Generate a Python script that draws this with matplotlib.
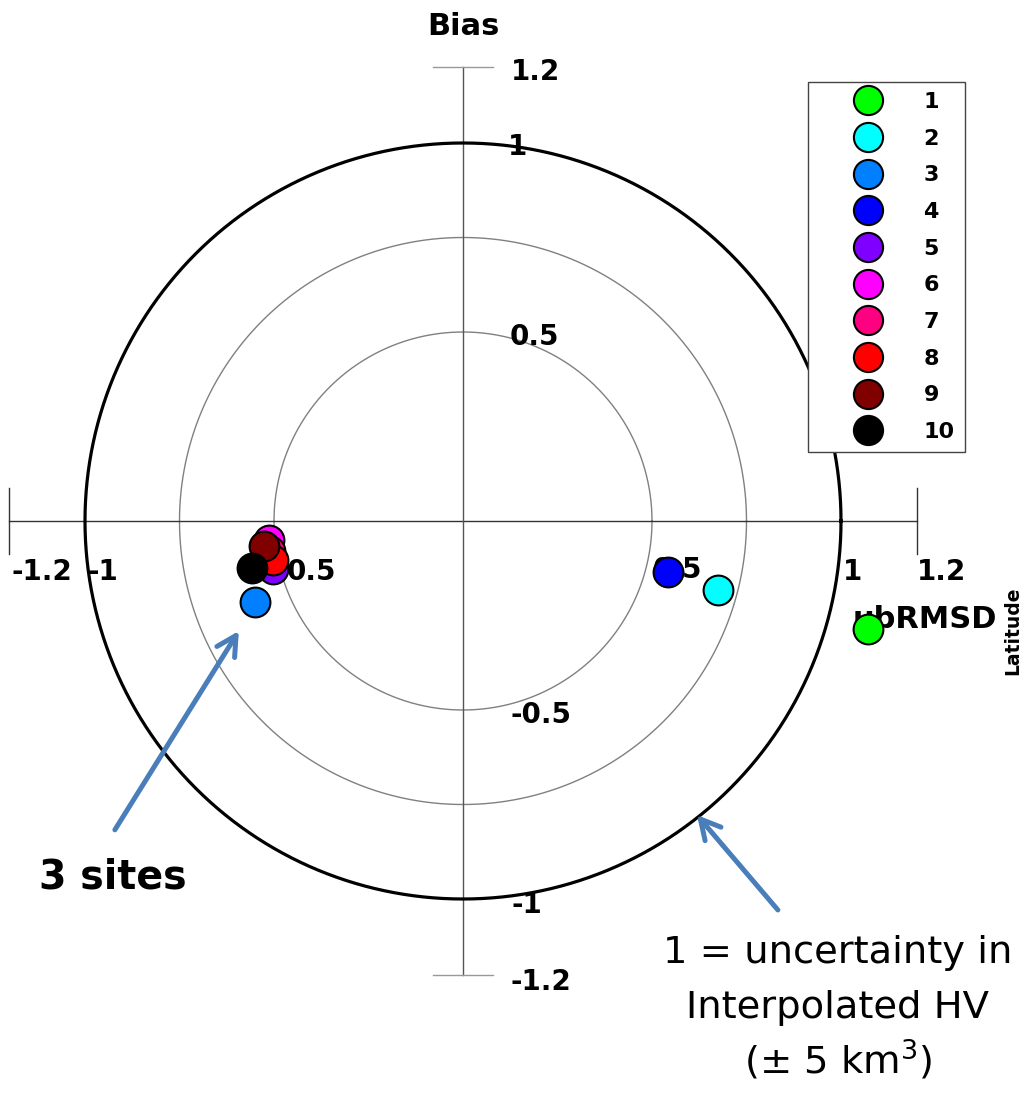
import numpy as np
import matplotlib.pyplot as plt
from matplotlib.lines import Line2D

plt.rcParams['font.family'] = ['DejaVu Sans']

# site results, normalised by the HV uncertainty
sites = ['1', '2', '3', '4', '5', '6', '7', '8', '9', '10']
ubrmsd = [1.071, 0.675, -0.55, 0.542, -0.503, -0.513, -0.51, -0.503, -0.526, -0.559]
bias = [-0.286, -0.183, -0.214, -0.135, -0.127, -0.05, -0.08, -0.103, -0.066, -0.124]
colors = ['#00ff00', '#00ffff', '#0080ff', '#0000ff', '#8000ff',
          '#ff00ff', '#ff0080', '#ff0000', '#800000', '#000000']

ring_radii = [0.5, 0.75]
note_lines = ['1 = uncertainty in', 'Interpolated HV', '(± 5 km$^3$)']

fig = plt.figure(figsize=(10.29, 10.95), dpi=100)
ax = fig.add_axes([0, 0, 1, 1])
scale = 378.0
cx, cy = 463.0, 521.0
ax.set_xlim(-cx / scale, (1029 - cx) / scale)
ax.set_ylim(-(1095 - cy) / scale, cy / scale)
ax.set_aspect('equal')
ax.axis('off')

t = np.linspace(0, 2 * np.pi, 721)
for r in ring_radii:
    ax.plot(r * np.cos(t), r * np.sin(t), color='#808080', lw=1.0, zorder=1)
ax.plot(np.cos(t), np.sin(t), color='black', lw=2.3, zorder=2)

# axes with end caps
ax.plot([-1.2, 1.2], [0, 0], color='#333333', lw=1.0, zorder=1)
ax.plot([0, 0], [-1.2, 1.2], color='#555555', lw=1.0, zorder=1)
for x in (-1.2, 1.2):
    ax.plot([x, x], [-0.088, 0.088], color='#333333', lw=1.0, zorder=1)
for y in (-1.2, 1.2):
    ax.plot([-0.08, 0.08], [y, y], color='#999999', lw=1.0, zorder=1)

tk = dict(fontsize=20, fontweight='bold', zorder=3, ha='center', va='baseline')
# horizontal tick labels
row = -0.156
ax.text(-1.114, row, '-1.2', **tk)
ax.text(-0.952, row, '-1', **tk)
ax.text(-0.40, row, '0.5', **tk)
ax.text(0.568, row + 0.005, '0.5', **tk)
ax.text(1.03, row, '1', **tk)
ax.text(1.267, row, '1.2', **tk)
# vertical tick labels
ax.text(0.193, 1.167, '1.2', **tk)
ax.text(0.143, 0.968, '1', **tk)
ax.text(0.19, 0.466, '0.5', **tk)
ax.text(0.206, -0.534, '-0.5', **tk)
ax.text(0.17, -1.037, '-1', **tk)
ax.text(0.206, -1.241, '-1.2', **tk)

ax.text(0, 1.286, 'Bias', fontsize=22, fontweight='bold', ha='center', va='baseline')
ax.text(1.222, -0.283, 'ubRMSD', fontsize=22, fontweight='bold', ha='center',
        va='baseline', zorder=3)
ax.text(1.455, -0.29, 'Latitude', ha='center', va='center', rotation=90,
        fontsize=13.5, fontweight='bold', zorder=3)

for x, y, c in zip(ubrmsd, bias, colors):
    ax.scatter(x, y, s=460, color=c, edgecolor='black', linewidth=1.5, zorder=5)

# annotation arrows
arrow_kw = dict(arrowstyle='->,head_length=1.4,head_width=0.75', color='#4a7ebb',
                lw=3.6, shrinkA=0, shrinkB=0)
ax.annotate('', xy=(-0.593, -0.291), xytext=(-0.921, -0.817),
            arrowprops=arrow_kw, zorder=6)
ax.annotate('', xy=(0.619, -0.778), xytext=(0.833, -1.029),
            arrowprops=arrow_kw, zorder=6)
ax.text(-0.926, -0.971, '3 sites', ha='center', va='baseline',
        fontsize=28.5, fontweight='bold', zorder=6)
for line, yb in zip(note_lines, [-1.169, -1.315, -1.463]):
    ax.text(0.992, yb, line, ha='center', va='baseline', fontsize=27.7, zorder=6)

handles = [Line2D([], [], ls='none', marker='o', markersize=21,
                  markerfacecolor=c, markeredgecolor='black', markeredgewidth=1.5)
           for c in colors]
leg = ax.legend(handles, sites, loc='upper left', bbox_to_anchor=(808 / 1029, 1 - 82 / 1095),
                bbox_transform=fig.transFigure, frameon=True, fancybox=False,
                edgecolor='#444444', framealpha=1, handletextpad=0.25,
                labelspacing=0.75, borderpad=0.45, borderaxespad=0,
                prop=dict(size=16, weight='bold'), handlelength=4.5)
leg.get_frame().set_linewidth(1.0)
leg.set_zorder(7)

fig.savefig('out.png', dpi=100)
